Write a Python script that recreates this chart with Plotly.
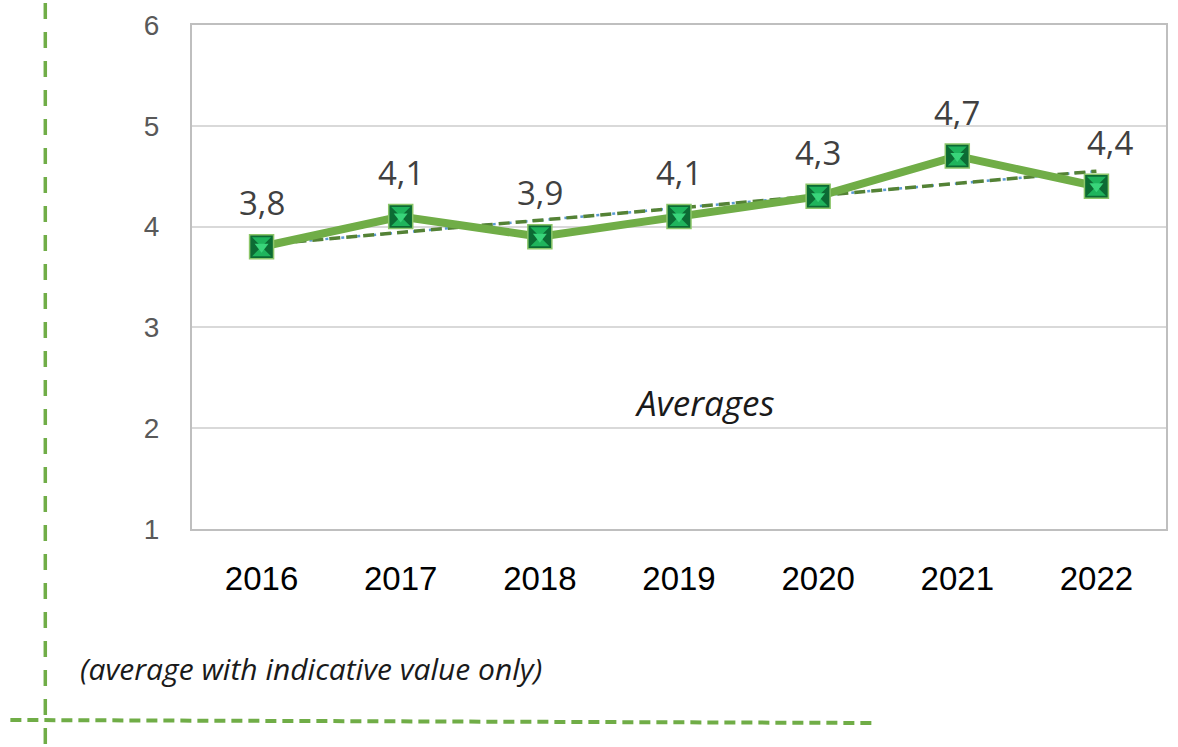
import plotly.graph_objects as go

# Yearly averages
years = ["2016", "2017", "2018", "2019", "2020", "2021", "2022"]
averages = [3.8, 4.1, 3.9, 4.1, 4.3, 4.7, 4.4]
labels = ["3,8", "4,1", "3,9", "4,1", "4,3", "4,7", "4,4"]

# Trend line end points (first and last year)
trend_years = ["2016", "2022"]
trend_values = [3.82, 4.55]

y_ticks = [1, 2, 3, 4, 5, 6]

W, H = 1178, 747
L, R, T, B = 192, 10, 25, 218
PW, PH = W - L - R, H - T - B


def px_x(px):
    return (px - L) / PW


def px_y(py):
    return (H - B - py) / PH


fig = go.Figure()

# Trend lines
fig.add_trace(go.Scatter(
    x=trend_years, y=trend_values, mode="lines",
    line=dict(color="#5b9bd5", width=2.5, dash="3px,5px"),
    hoverinfo="skip", showlegend=False,
))
fig.add_trace(go.Scatter(
    x=trend_years, y=trend_values, mode="lines",
    line=dict(color="#548235", width=3.5, dash="11px,6px"),
    hoverinfo="skip", showlegend=False,
))

# Main line
fig.add_trace(go.Scatter(
    x=years, y=averages, mode="lines",
    line=dict(color="#70ad47", width=8),
    showlegend=False,
))

# Bevelled square markers: dark base with lighter top/bottom faces
fig.add_trace(go.Scatter(
    x=years, y=averages, mode="markers",
    marker=dict(symbol="square", size=24, color="#0c6b34",
                line=dict(color="#8cc66a", width=1.5)),
    showlegend=False,
))
fig.add_trace(go.Scatter(
    x=years, y=averages, mode="markers",
    marker=dict(symbol="hourglass", size=19, color="#1fb45c",
                line=dict(width=0)),
    hoverinfo="skip", showlegend=False,
))
fig.add_trace(go.Scatter(
    x=years, y=averages, mode="markers",
    marker=dict(symbol="triangle-down", size=12, color="#39d47a",
                line=dict(width=0)),
    hoverinfo="skip", showlegend=False,
))

annotations = []
for i, (v, lab) in enumerate(zip(averages, labels)):
    annotations.append(dict(
        x=i, y=v, text=lab, showarrow=False, xref="x", yref="y",
        yshift=44, xshift=14 if i == len(years) - 1 else 0,
        font=dict(family="Open Sans", size=33, color="#404040"),
    ))

annotations.append(dict(
    x=px_x(706), y=px_y(402), xref="paper", yref="paper", text="<i>Averages</i>",
    xanchor="center", yanchor="middle",
    showarrow=False, font=dict(family="Open Sans", size=35, color="#1a1a1a"),
))
annotations.append(dict(
    x=px_x(78), y=px_y(668), xref="paper", yref="paper",
    xanchor="left", yanchor="middle",
    text="<i>(average with indicative value only)</i>",
    showarrow=False, font=dict(family="Open Sans", size=30, color="#1a1a1a"),
))

shapes = [
    # Vertical dashed frame line
    dict(type="line", xref="paper", yref="paper",
         x0=px_x(45), x1=px_x(45), y0=px_y(3), y1=px_y(747),
         line=dict(color="#70ad47", width=3.5, dash="16px,13px")),
    # Horizontal dashed frame line
    dict(type="line", xref="paper", yref="paper",
         x0=px_x(10), x1=px_x(875), y0=px_y(720), y1=px_y(723),
         line=dict(color="#70ad47", width=4, dash="11px,6px")),
]

fig.update_layout(
    width=W, height=H,
    margin=dict(l=L, r=R, t=T, b=B),
    paper_bgcolor="white", plot_bgcolor="white",
    annotations=annotations, shapes=shapes,
    xaxis=dict(
        type="category", categoryorder="array", categoryarray=years,
        range=[-0.5, 6.5],
        showgrid=False, showline=True, linecolor="#bfbfbf", linewidth=2,
        mirror=True, ticks="", ticklabelstandoff=19,
        tickfont=dict(family="Liberation Sans", size=33, color="#000000"),
    ),
    yaxis=dict(
        range=[1, 6], tickvals=y_ticks,
        showgrid=True, gridcolor="#d9d9d9", gridwidth=1.5,
        showline=True, linecolor="#bfbfbf", linewidth=2, mirror=True,
        ticks="", ticklabelstandoff=25, zeroline=False,
        tickfont=dict(family="Liberation Sans", size=28, color="#595959"),
    ),
)

fig.write_html("out.html")
